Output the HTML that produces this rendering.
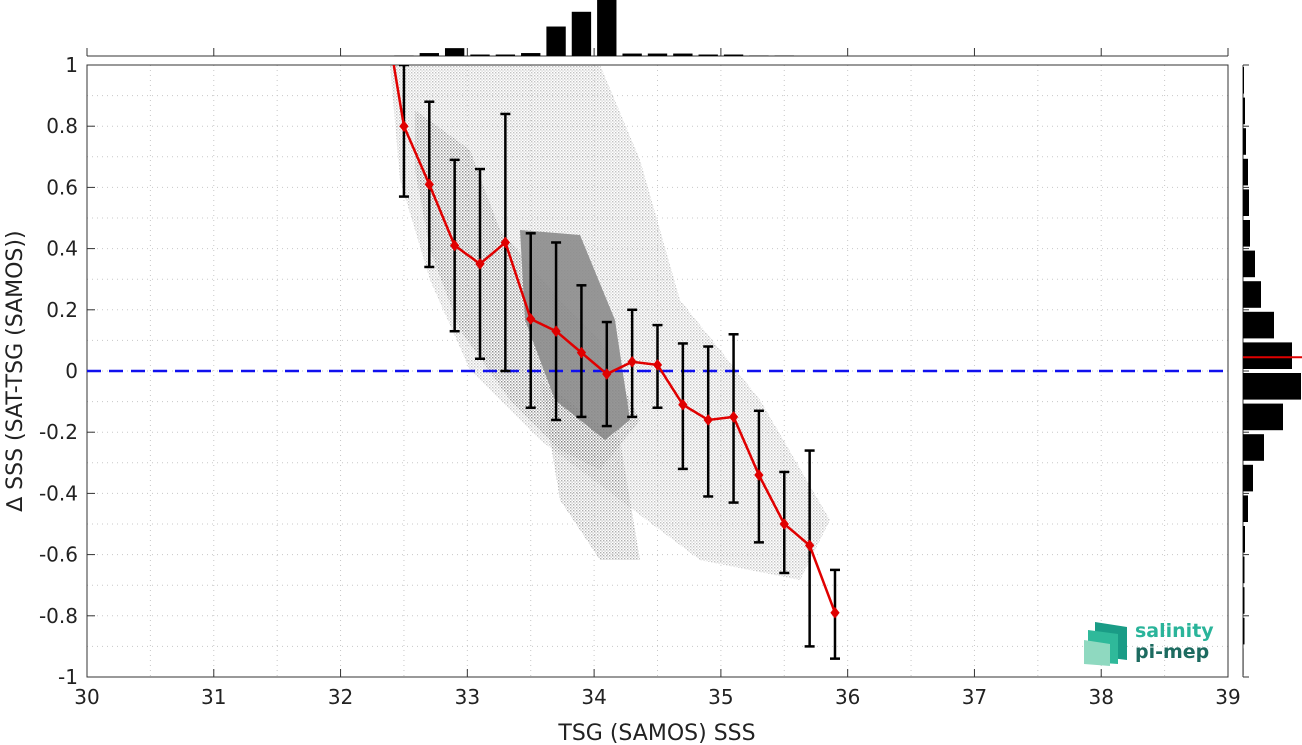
<!DOCTYPE html>
<html><head><meta charset="utf-8"><style>
body{margin:0;background:#fff;width:1302px;height:745px;overflow:hidden}
svg{display:block;font-family:"DejaVu Sans","Liberation Sans",sans-serif}
</style></head><body>
<svg id="chart" width="1302" height="745" viewBox="0 0 1302 745" xmlns="http://www.w3.org/2000/svg">
<defs>
<pattern id="dots" width="3" height="3" patternUnits="userSpaceOnUse"><rect x="0" y="0" width="1.4" height="1.4" fill="#7a7a7a"/><rect x="1.5" y="1.5" width="1.2" height="1.2" fill="#8a8a8a"/></pattern>
<clipPath id="plotclip"><rect x="87" y="65" width="1141" height="612"/></clipPath>
</defs>
<g id="grid"></g>
<g id="cloud" clip-path="url(#plotclip)">
<polygon points="390,65 600,65 640,160 680,300 760,400 830,520 800,580 700,560 620,500 540,440 470,370 430,280 400,180" fill="url(#dots)" opacity="0.45"/>
<polygon points="415,110 470,150 500,230 560,300 600,340 640,420 600,470 560,450 510,400 460,330 430,250 415,170" fill="url(#dots)" opacity="0.7"/>
<polygon points="520,230 580,235 615,320 630,420 605,440 555,400 525,320" fill="#8c8c8c" opacity="0.9"/>
<polygon points="540,380 620,440 640,560 600,560 560,500" fill="url(#dots)" opacity="0.6"/>
</g>
<g id="axes"></g>
<g id="marks" clip-path="url(#plotclip)"></g>
<g id="tophist"></g>
<g id="righthist"></g>
<text x="657" y="740" font-size="22" text-anchor="middle" fill="#222">TSG (SAMOS) SSS</text>
<text transform="translate(22,371) rotate(-90)" font-size="22" text-anchor="middle" fill="#222">∆ SSS (SAT-TSG (SAMOS))</text>
<g>
<polygon points="1095,622 1127,627 1127,660 1095,656" fill="#1a9c86"/>
<polygon points="1088,630 1118,634 1118,664 1088,662" fill="#2fb99a"/>
<polygon points="1084,640 1110,644 1110,666 1084,664" fill="#8fd9c0"/>
<text x="1135" y="637" font-size="19" font-weight="bold" fill="#2ab49a">salinity</text>
<text x="1135" y="658" font-size="19" font-weight="bold" fill="#1d6b60">pi-mep</text>
</g>
</svg>
<script>
const xBins = [32.5,32.7,32.9,33.1,33.3,33.5,33.7,33.9,34.1,34.3,34.5,34.7,34.9,35.1,35.3,35.5,35.7,35.9];
const meanDiff = [0.8,0.61,0.41,0.35,0.42,0.17,0.13,0.06,-0.01,0.03,0.02,-0.11,-0.16,-0.15,-0.34,-0.5,-0.57,-0.79];
const errLo = [0.57,0.34,0.13,0.04,0.0,-0.12,-0.16,-0.15,-0.18,-0.15,-0.12,-0.32,-0.41,-0.43,-0.56,-0.66,-0.9,-0.94];
const errHi = [1.0,0.88,0.69,0.66,0.84,0.45,0.42,0.28,0.16,0.2,0.15,0.09,0.08,0.12,-0.13,-0.33,-0.26,-0.65];
const topHistX = [32.5,32.7,32.9,33.1,33.3,33.5,33.7,33.9,34.1,34.3,34.5,34.7,34.9,35.1,35.3,35.5];
const topHistCounts = [0.5,3,8,1.5,1.5,3,30,45,57,2.5,2.5,2.5,1.5,1.5,0.5,0.5];
const rightHistLo = [0.9,0.8,0.7,0.6,0.5,0.4,0.3,0.2,0.1,0.0,-0.1,-0.2,-0.3,-0.4,-0.5,-0.6,-0.7,-0.8,-0.9,-1.0];
const rightHistCounts = [1,2,3,5,6,7,12,18,31,49,58,40,21,10,5,2,1.5,1.5,1.5,0.5];
const medianDiff = 0.045;
const xTicks = [30,31,32,33,34,35,36,37,38,39];
const yTicks = [1,0.8,0.6,0.4,0.2,0,-0.2,-0.4,-0.6,-0.8,-1];
const yTickLabels = ["1","0.8","0.6","0.4","0.2","0","-0.2","-0.4","-0.6","-0.8","-1"];

const NS="http://www.w3.org/2000/svg";
const X0=87,X1=1228,Y0=677,Y1=65;
const sx=v=>X0+(v-30)/9*(X1-X0);
const sy=v=>Y0-(v+1)/2*(Y0-Y1);
function mk(tag,attrs,parent){const e=document.createElementNS(NS,tag);for(const k in attrs)e.setAttribute(k,attrs[k]);parent.appendChild(e);return e;}
const grid=document.getElementById('grid'),axes=document.getElementById('axes'),marks=document.getElementById('marks');
for(let v=30;v<=39.001;v+=0.5){const l=mk('line',{x1:sx(v),x2:sx(v),y1:Y1,y2:Y0,stroke:'#c8c8c8','stroke-width':1,'stroke-dasharray':'1 4'},grid);

}
for(let v=-1;v<=1.001;v+=0.1){const l=mk('line',{x1:X0,x2:X1,y1:sy(v),y2:sy(v),stroke:'#c8c8c8','stroke-width':1,'stroke-dasharray':'1 4'},grid);

}
const fr=mk('rect',{x:X0,y:Y1,width:X1-X0,height:Y0-Y1,fill:'none',stroke:'#333','stroke-width':1},axes);


xTicks.forEach(v=>{mk('line',{x1:sx(v),x2:sx(v),y1:Y0,y2:Y0-8,stroke:'#333'},axes);
const t=mk('text',{x:sx(v),y:Y0+27,'font-size':20,'text-anchor':'middle',fill:'#222'},axes);t.textContent=v;

});
yTicks.forEach((v,i)=>{mk('line',{x1:X0,x2:X0+8,y1:sy(v),y2:sy(v),stroke:'#333'},axes);
const t=mk('text',{x:X0-9,y:sy(v)+7,'font-size':20,'text-anchor':'end',fill:'#222'},axes);t.textContent=yTickLabels[i];

});
const z=mk('line',{x1:X0,x2:X1,y1:sy(0),y2:sy(0),stroke:'#1010ee','stroke-width':2.5,'stroke-dasharray':'14 8'},marks);


xBins.forEach((v,i)=>{const g=mk('g',{stroke:'#000','stroke-width':2.5},marks);


const x=sx(v);mk('line',{x1:x,x2:x,y1:sy(errLo[i]),y2:sy(errHi[i])},g);
mk('line',{x1:x-5,x2:x+5,y1:sy(errLo[i]),y2:sy(errLo[i])},g);
mk('line',{x1:x-5,x2:x+5,y1:sy(errHi[i]),y2:sy(errHi[i])},g);});
let pts=[[sx(32.3),sy(1.3)]].concat(xBins.map((v,i)=>[sx(v),sy(meanDiff[i])]));
const pl=mk('polyline',{points:pts.map(p=>p.join(',')).join(' '),fill:'none',stroke:'#e00000','stroke-width':2.5},marks);


xBins.forEach((v,i)=>{const x=sx(v),y=sy(meanDiff[i]);
const d=mk('polygon',{points:`${x},${y-5} ${x+4},${y} ${x},${y+5} ${x-4},${y}`,fill:'#e00000',stroke:'#e00000'},marks);

});
const th=document.getElementById('tophist');const TB=56,tmax=57,TH=56;
mk('line',{x1:X0,x2:X1,y1:TB,y2:TB,stroke:'#333'},th);
xTicks.forEach(v=>mk('line',{x1:sx(v),x2:sx(v),y1:TB,y2:TB-8,stroke:'#333'},th));
topHistX.forEach((v,i)=>{const h=topHistCounts[i]/tmax*TH;const w=(sx(0.2)-sx(0))-6;
const r=mk('rect',{x:sx(v)-w/2,y:TB-h,width:w,height:h,fill:'#000'},th);

});
const rh=document.getElementById('righthist');const RB=1243,rmax=58,RW=58;
mk('line',{x1:RB,x2:RB,y1:Y1,y2:Y0,stroke:'#333'},rh);
yTicks.forEach(v=>mk('line',{x1:RB,x2:RB+6,y1:sy(v),y2:sy(v),stroke:'#333'},rh));
rightHistLo.forEach((v,i)=>{const w=rightHistCounts[i]/rmax*RW;const y=sy(v+0.1)+2,h=sy(v)-sy(v+0.1)-4;
const r=mk('rect',{x:RB,y:y,width:w,height:h,fill:'#000'},rh);

});
const md=mk('line',{x1:RB,x2:1302,y1:sy(medianDiff),y2:sy(medianDiff),stroke:'#e00000','stroke-width':2},rh);


</script>
</body></html>
